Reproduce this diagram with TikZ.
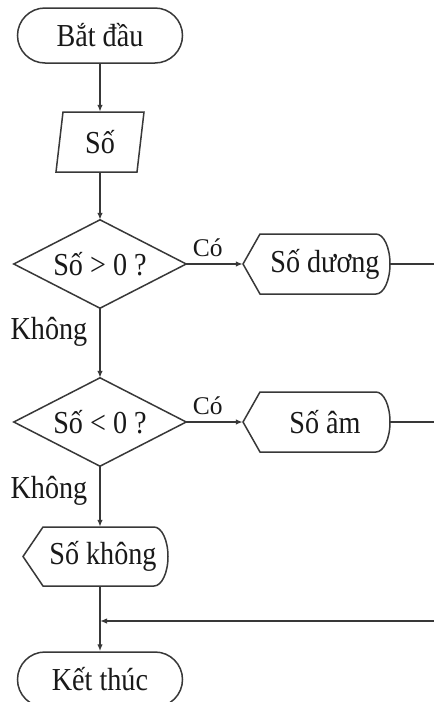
\documentclass[tikz,border=0pt]{standalone}
\usepackage{fontspec}
\setmainfont{Liberation Serif}[FakeStretch=0.88]
\newfontfamily\lblfont{Liberation Serif}
\usetikzlibrary{shapes.geometric,arrows.meta}
\begin{document}
\begin{tikzpicture}[x=1pt,y=-1pt,
  ln/.style={draw=black!78,line width=1.5pt},
  arr/.style={ln,-{Latex[length=7pt,width=5.5pt]}},
  txt/.style={font=\fontsize{32}{36}\selectfont,text=black!90},
  term/.style={txt,ln,rectangle,rounded corners=27.5pt,minimum width=165pt,minimum height=55pt,inner sep=0pt},
  iobox/.style={txt,rectangle,minimum width=82pt,minimum height=60pt,inner sep=0pt},
  dec/.style={txt,rectangle,minimum width=172pt,minimum height=88pt,inner sep=0pt},
  disp/.style={txt,rectangle,minimum width=147pt,minimum height=60pt,inner sep=0pt},
  lbl/.style={font=\lblfont\fontsize{25.5}{28}\selectfont,text=black!90,inner sep=2pt},
  lblk/.style={txt,inner sep=2pt}]
\clip (0,0) rectangle (434,702);
\fill[white] (0,0) rectangle (434,702);

\node[term] (start) at (100,35.5) {Bắt đầu};
\node[iobox] (in) at (100,142) {Số};
\draw[ln,shift={(in.center)}] (-37,-30) -- (44,-30) -- (37,30) -- (-44,30) -- cycle;

\node[dec] (d1) at (100,264) {Số > 0 ?};
\draw[ln] (d1.north) -- (d1.east) -- (d1.south) -- (d1.west) -- cycle;
\node[dec] (d2) at (100,422) {Số < 0 ?};
\draw[ln] (d2.north) -- (d2.east) -- (d2.south) -- (d2.west) -- cycle;

\node[disp] (duong) at (316.5,264) {\hspace*{17pt}Số dương};
\draw[ln,shift={(duong.center)}] (-73.5,0) -- (-56.5,-30) -- (59.5,-30)
  .. controls (67.2,-30) and (73.5,-16.6) .. (73.5,0)
  .. controls (73.5,16.6) and (67.2,30) .. (59.5,30) -- (-56.5,30) -- cycle;

\node[disp] (am) at (316.5,422) {\hspace*{17pt}Số âm};
\draw[ln,shift={(am.center)}] (-73.5,0) -- (-56.5,-30) -- (59.5,-30)
  .. controls (67.2,-30) and (73.5,-16.6) .. (73.5,0)
  .. controls (73.5,16.6) and (67.2,30) .. (59.5,30) -- (-56.5,30) -- cycle;

\node[disp,minimum width=145pt,minimum height=59pt] (khong) at (95.5,556.5) {\hspace*{15pt}Số không};
\draw[ln,shift={(khong.center)}] (-72.5,0) -- (-52.5,-29.5) -- (58.5,-29.5)
  .. controls (66.2,-29.5) and (72.5,-16.3) .. (72.5,0)
  .. controls (72.5,16.3) and (66.2,29.5) .. (58.5,29.5) -- (-52.5,29.5) -- cycle;

\node[term] (end) at (100,679.5) {Kết thúc};

\coordinate (rx) at (460,264);
\coordinate (j) at (100,621);

\draw[arr] (start.south) -- (in.north);
\draw[arr] (in.south) -- (d1.north);
\draw[arr] (d1.east) -- node[lbl,pos=0.38,above=5pt] {Có} (duong.west);
\draw[arr] (d1.south) -- node[lblk,pos=0.34,left=10pt] {Không} (d2.north);
\draw[arr] (d2.east) -- node[lbl,pos=0.38,above=5pt] {Có} (am.west);
\draw[arr] (d2.south) -- node[lblk,pos=0.4,left=10pt] {Không} (d2.south |- khong.north);
\draw[arr] (end.north |- khong.south) -- (end.north);
\draw[arr] (duong.east) -- (rx) |- (j);
\draw[ln] (am.east) -- (rx |- am.east);
\end{tikzpicture}
\end{document}
